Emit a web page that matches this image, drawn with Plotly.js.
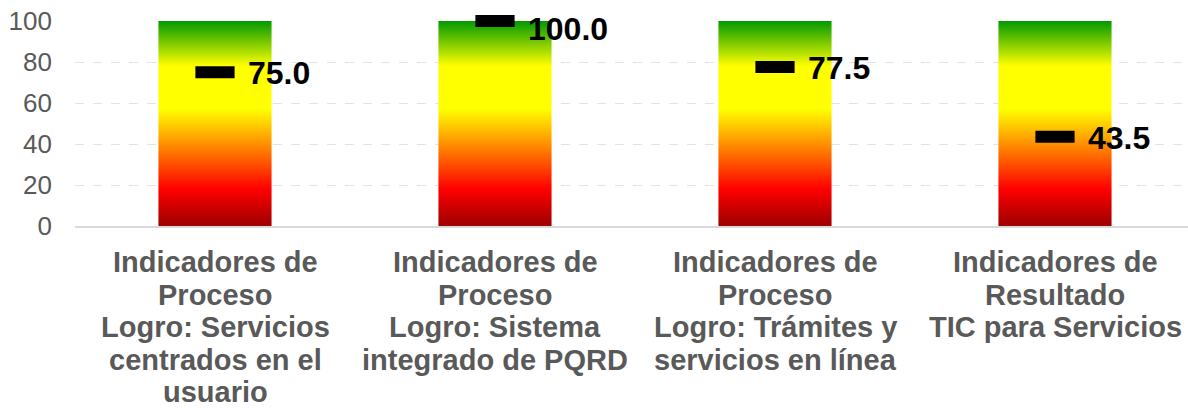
<!DOCTYPE html>
<html>
<head>
<meta charset="utf-8">
<script src="https://cdn.plot.ly/plotly-3.0.1.min.js"></script>
<style>html,body{margin:0;padding:0;background:#fff}#chart{width:1188px;height:409px}</style>
</head>
<body>
<div id="chart"></div>
<script>
const categories = [
  "Indicadores de<br>Proceso<br>Logro: Servicios<br>centrados en el<br>usuario",
  "Indicadores de<br>Proceso<br>Logro: Sistema<br>integrado de PQRD",
  "Indicadores de<br>Proceso<br>Logro: Trámites y<br>servicios en línea",
  "Indicadores de<br>Resultado<br>TIC para Servicios"
];
const scaleMax = [100, 100, 100, 100];
const values = [75.0, 100.0, 77.5, 43.5];
const yTicks = [0, 20, 40, 60, 80, 100];

const FONT = 'Liberation Sans, Arial, sans-serif';
const halfW = 0.202;
const colorscale = [
  [0, '#9c0000'], [0.18, '#ff0000'], [0.57, '#ffff00'], [0.78, '#ffff00'], [1, '#009900']
];

const traces = [];
categories.forEach((c, i) => {
  traces.push({
    type: 'scatter', mode: 'lines',
    x: [i - halfW, i + halfW, i + halfW, i - halfW, i - halfW],
    y: [0, 0, scaleMax[i], scaleMax[i], 0],
    fill: 'toself',
    line: {width: 0, color: 'rgba(0,0,0,0)'},
    fillgradient: {type: 'vertical', colorscale: colorscale, start: 0, stop: scaleMax[i]},
    hoverinfo: 'skip', showlegend: false
  });
});
traces.push({
  type: 'scatter', mode: 'markers',
  x: categories.map((c, i) => i), y: values,
  marker: {symbol: 'line-ew', size: 28, line: {width: 12, color: '#000'}, color: '#000'},
  showlegend: false, cliponaxis: false
});

const annotations = values.map((v, i) => ({
  x: i, y: v, xref: 'x', yref: 'y', text: v.toFixed(1), showarrow: false,
  xanchor: 'left', yanchor: 'middle', xshift: 31, yshift: v >= 99 ? -8 : -1,
  font: {family: FONT, size: 32, color: '#000', weight: 'bold'}
}));

categories.forEach((c, i) => {
  c.split('<br>').forEach((line, k) => {
    annotations.push({
      x: i, y: 0, xref: 'x', yref: 'y', text: line, showarrow: false,
      xanchor: 'center', yanchor: 'middle', yshift: -36 - 32.5 * k,
      font: {family: FONT, size: 29, color: '#595959', weight: 'bold'}
    });
  });
});

const layout = {
  width: 1188, height: 409,
  margin: {l: 75, r: 0, t: 21, b: 183},
  paper_bgcolor: '#fff', plot_bgcolor: '#fff',
  showlegend: false,
  font: {family: FONT, color: '#595959'},
  xaxis: {
    range: [-0.5, 3.475], tickvals: categories.map((c, i) => i),
    showticklabels: false,
    showgrid: false, zeroline: false, showline: true, linecolor: '#d9d9d9', linewidth: 2,
    ticks: '', fixedrange: true
  },
  yaxis: {
    range: [0, 100], tickvals: yTicks, tickfont: {size: 26, color: '#595959'},
    showgrid: true, gridcolor: '#e3e3e3', griddash: 'dash', gridwidth: 1,
    zeroline: false, showline: false, ticks: '', ticklabelstandoff: 22, fixedrange: true
  },
  annotations: annotations
};

Plotly.newPlot('chart', traces, layout, {displayModeBar: false, staticPlot: true});
</script>
</body>
</html>
